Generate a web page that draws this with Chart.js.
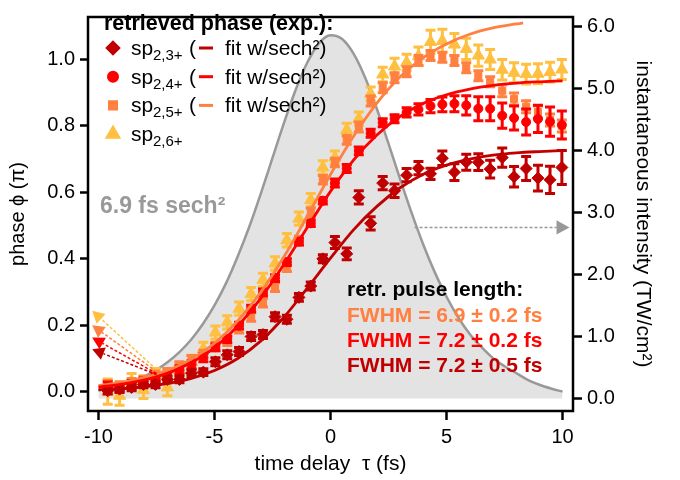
<!DOCTYPE html>
<html>
<head>
<meta charset="utf-8">
<script src="https://cdn.jsdelivr.net/npm/chart.js@4.4.0/dist/chart.umd.min.js"></script>
<style>
  html, body { margin: 0; padding: 0; background: #fff; }
</style>
</head>
<body>
<canvas id="chart" width="680" height="480"></canvas>
<script>
// Measured delays (fs) and retrieved phase (units of pi)
const tau = [-9.60, -9.09, -8.57, -8.06, -7.54, -7.03, -6.51, -5.99, -5.48, -4.96,
  -4.45, -3.94, -3.42, -2.91, -2.39, -1.88, -1.36, -0.85, -0.33, 0.19,
  0.70, 1.22, 1.73, 2.25, 2.76, 3.28, 3.79, 4.31, 4.82, 5.34,
  5.85, 6.37, 6.88, 7.40, 7.91, 8.43, 8.94, 9.46, 9.97];

const phase23 = [0.003, 0.008, 0.013, 0.022, 0.022, 0.037, 0.037, 0.056, 0.059, 0.090,
  0.111, 0.121, 0.166, 0.172, 0.226, 0.218, 0.284, 0.318, 0.400, 0.449,
  0.415, 0.585, 0.507, 0.628, 0.605, 0.652, 0.673, 0.656, 0.703, 0.661,
  0.691, 0.691, 0.670, 0.705, 0.647, 0.672, 0.643, 0.638, 0.675];
const err23 = [0.010, 0.010, 0.010, 0.010, 0.010, 0.010, 0.010, 0.010, 0.010, 0.012,
  0.012, 0.012, 0.012, 0.012, 0.012, 0.012, 0.012, 0.012, 0.012, 0.018,
  0.018, 0.020, 0.020, 0.020, 0.020, 0.020, 0.020, 0.017, 0.022, 0.025,
  0.024, 0.025, 0.027, 0.029, 0.031, 0.036, 0.039, 0.041, 0.051];

const phase24 = [0.017, 0.013, 0.022, 0.029, 0.042, 0.047, 0.066, 0.081, 0.102, 0.134,
  0.158, 0.199, 0.250, 0.299, 0.342, 0.390, 0.452, 0.507, 0.575, 0.628,
  0.672, 0.725, 0.778, 0.810, 0.822, 0.841, 0.850, 0.860, 0.865, 0.867,
  0.862, 0.852, 0.852, 0.831, 0.824, 0.812, 0.821, 0.813, 0.803];
const err24 = [0.012, 0.012, 0.012, 0.012, 0.012, 0.012, 0.012, 0.012, 0.012, 0.010,
  0.010, 0.010, 0.010, 0.010, 0.010, 0.010, 0.010, 0.010, 0.010, 0.012,
  0.012, 0.012, 0.012, 0.012, 0.012, 0.014, 0.017, 0.020, 0.022, 0.024,
  0.029, 0.036, 0.036, 0.038, 0.036, 0.039, 0.041, 0.044, 0.042];

const phase25 = [0.022, 0.018, 0.028, 0.035, 0.050, 0.058, 0.078, 0.097, 0.113, 0.135,
  0.152, 0.190, 0.225, 0.268, 0.315, 0.375, 0.455, 0.540, 0.638, 0.690,
  0.758, 0.797, 0.875, 0.915, 0.945, 0.963, 0.997, 1.012, 1.007, 0.997,
  0.975, 0.951, 0.933, 0.906, 0.881, 0.858, 0.842, 0.818, 0.800];
const err25 = [0.012, 0.012, 0.012, 0.012, 0.012, 0.012, 0.012, 0.012, 0.012, 0.013,
  0.013, 0.013, 0.013, 0.013, 0.013, 0.013, 0.013, 0.013, 0.013, 0.013,
  0.013, 0.015, 0.015, 0.015, 0.015, 0.015, 0.015, 0.015, 0.015, 0.015,
  0.015, 0.015, 0.015, 0.018, 0.018, 0.018, 0.018, 0.018, 0.018];

const phase26 = [0.000, -0.012, 0.030, 0.005, 0.050, 0.013, 0.066, 0.090, 0.129, 0.178,
  0.209, 0.250, 0.294, 0.337, 0.386, 0.456, 0.521, 0.577, 0.675, 0.705,
  0.788, 0.822, 0.897, 0.955, 0.979, 0.991, 1.010, 1.053, 1.056, 1.045,
  1.032, 1.012, 1.000, 0.969, 0.960, 0.956, 0.957, 0.962, 0.970];
const err26 = [0.038, 0.029, 0.025, 0.025, 0.020, 0.025, 0.020, 0.020, 0.020, 0.020,
  0.020, 0.020, 0.020, 0.020, 0.020, 0.020, 0.020, 0.020, 0.020, 0.020,
  0.020, 0.020, 0.020, 0.022, 0.025, 0.025, 0.028, 0.035, 0.035, 0.033,
  0.032, 0.032, 0.030, 0.031, 0.030, 0.030, 0.030, 0.030, 0.030];

// sech^2 fits of the phase
const fitTau = [-10, -9, -8, -7, -6, -5, -4, -3, -2, -1, 0, 1, 2, 3, 4, 5, 6, 7, 8, 9, 10];
const fit23 = [0.006, 0.009, 0.015, 0.025, 0.040, 0.064, 0.100, 0.153, 0.225, 0.312, 0.402,
  0.488, 0.558, 0.614, 0.655, 0.682, 0.700, 0.712, 0.719, 0.723, 0.726];
const fit24 = [0.014, 0.023, 0.036, 0.056, 0.088, 0.133, 0.198, 0.282, 0.384, 0.494, 0.603,
  0.698, 0.773, 0.829, 0.868, 0.894, 0.911, 0.922, 0.929, 0.933, 0.936];
const fitTau25 = [-10, -9, -8, -7, -6, -5, -4, -3, -2, -1, 0, 1, 2, 3, 4, 5, 6, 7, 8, 8.3];
const fit25 = [0.018, 0.028, 0.043, 0.065, 0.098, 0.146, 0.213, 0.300, 0.407, 0.529, 0.654,
  0.770, 0.869, 0.948, 1.006, 1.047, 1.076, 1.095, 1.107, 1.110];

// 6.9 fs sech^2 pulse, instantaneous intensity (TW/cm^2)
const intTau = [-10, -9.5, -9, -8.5, -8, -7.5, -7, -6.5, -6, -5.5, -5, -4.5, -4, -3.5, -3, -2.5, -2, -1.5, -1, -0.5,
  0, 0.5, 1, 1.5, 2, 2.5, 3, 3.5, 4, 4.5, 5, 5.5, 6, 6.5, 7, 7.5, 8, 8.5, 9, 9.5, 10];
const intensity = [0.13, 0.17, 0.22, 0.28, 0.36, 0.46, 0.59, 0.75, 0.95, 1.20, 1.50, 1.86, 2.29, 2.77, 3.31, 3.88, 4.45, 4.98, 5.42, 5.73,
  5.86, 5.80, 5.56, 5.17, 4.67, 4.11, 3.54, 2.99, 2.48, 2.03, 1.64, 1.31, 1.04, 0.83, 0.65, 0.52, 0.41, 0.30, 0.22, 0.16, 0.11];

const tauTicks = [-10, -5, 0, 5, 10];
const phaseTicks = [0, 0.2, 0.4, 0.6, 0.8, 1.0];
const intTicks = [0, 1, 2, 3, 4, 5, 6];

const DARKRED = '#c00000';
const RED = '#ff0000';
const ORANGE = '#ff8040';
const YELLOW = '#ffbf40';
const GREY = '#999999';
const FONT = '"Liberation Sans", Arial, sans-serif';

const pts = (xs, ys) => xs.map((x, i) => ({ x: x, y: ys[i] }));

function fitLine(xs, ys, color) {
  return {
    type: 'line', data: pts(xs, ys), borderColor: color, borderWidth: 2.8,
    pointRadius: 0, fill: false, cubicInterpolationMode: 'monotone', order: 0
  };
}

function pointSet(ys, errs, color, style, radius, order) {
  return {
    type: 'scatter', data: pts(tau, ys), errors: errs, showLine: false,
    pointStyle: style, pointRadius: radius, pointBackgroundColor: color,
    pointBorderColor: color, pointBorderWidth: 1, order: order
  };
}

// Error bars, drawn right before each point set so layering stays right
const errorBars = {
  id: 'errorBars',
  beforeDatasetDraw(chart, args) {
    const ds = chart.data.datasets[args.index];
    if (!ds.errors) return;
    const ctx = chart.ctx;
    const yScale = chart.scales.y;
    const area = chart.chartArea;
    ctx.save();
    ctx.beginPath();
    ctx.rect(area.left, area.top, area.right - area.left, area.bottom - area.top);
    ctx.clip();
    ctx.strokeStyle = ds.pointBackgroundColor;
    ctx.lineWidth = 3;
    args.meta.data.forEach((pt, i) => {
      const v = ds.data[i].y, e = ds.errors[i];
      const y0 = yScale.getPixelForValue(v - e);
      const y1 = yScale.getPixelForValue(v + e);
      ctx.beginPath();
      ctx.moveTo(pt.x, y0); ctx.lineTo(pt.x, y1);
      ctx.moveTo(pt.x - 5, y0); ctx.lineTo(pt.x + 5, y0);
      ctx.moveTo(pt.x - 5, y1); ctx.lineTo(pt.x + 5, y1);
      ctx.stroke();
    });
    ctx.restore();
  }
};

function arrow(ctx, x0, y0, x1, y1, color, size, width) {
  const ang = Math.atan2(y1 - y0, x1 - x0);
  const bx = x1 - size * Math.cos(ang), by = y1 - size * Math.sin(ang);
  ctx.save();
  ctx.strokeStyle = color;
  ctx.fillStyle = color;
  ctx.lineWidth = width;
  ctx.setLineDash([3, 2]);
  ctx.beginPath();
  ctx.moveTo(x0, y0); ctx.lineTo(bx, by);
  ctx.stroke();
  ctx.setLineDash([]);
  ctx.beginPath();
  ctx.moveTo(x1, y1);
  ctx.lineTo(bx + size * 0.55 * Math.sin(ang), by - size * 0.55 * Math.cos(ang));
  ctx.lineTo(bx - size * 0.55 * Math.sin(ang), by + size * 0.55 * Math.cos(ang));
  ctx.closePath();
  ctx.fill();
  ctx.restore();
}

// Frame, legend, arrows and text labels
const annotations = {
  id: 'annotations',
  afterDraw(chart) {
    const ctx = chart.ctx;
    const a = chart.chartArea;
    const x = chart.scales.x, y = chart.scales.y, y1 = chart.scales.y1;

    // arrows pointing to the phase axis
    const tips = [[0.244, YELLOW, 0.067], [0.200, ORANGE, 0.061], [0.163, RED, 0.055], [0.128, DARKRED, 0.052]];
    tips.forEach(t => {
      arrow(ctx, x.getPixelForValue(-7.5), y.getPixelForValue(t[2]),
        x.getPixelForValue(-10.27), y.getPixelForValue(t[0]), t[1], 12, 1.5);
    });
    // arrow pointing to the intensity axis
    arrow(ctx, x.getPixelForValue(3.62), y1.getPixelForValue(2.76),
      x.getPixelForValue(10.3), y1.getPixelForValue(2.76), GREY, 13, 1.5);

    // frame
    ctx.save();
    ctx.strokeStyle = '#000';
    ctx.lineWidth = 2.5;
    ctx.strokeRect(a.left, a.top, a.right - a.left, a.bottom - a.top);

    // legend
    ctx.fillStyle = '#000';
    ctx.textBaseline = 'alphabetic';
    ctx.font = 'bold 21.5px ' + FONT;
    ctx.fillText('retrieved phase (exp.):', 104, 30);
    const rows = [
      ['rectRot', DARKRED, 6, '2,3+', DARKRED],
      ['circle', RED, 4.5, '2,4+', RED],
      ['rect', ORANGE, 5, '2,5+', ORANGE],
      ['triangle', YELLOW, 6.5, '2,6+', null]
    ];
    rows.forEach((r, i) => {
      const base = 55 + i * 28.7;
      ctx.fillStyle = r[1];
      ctx.strokeStyle = r[1];
      Chart.helpers.drawPoint(ctx, { pointStyle: r[0], radius: r[2], borderWidth: 1, rotation: 0 }, 113, base - 7);
      ctx.fillStyle = '#000';
      ctx.font = '21px ' + FONT;
      ctx.fillText('sp', 131, base);
      ctx.font = '15px ' + FONT;
      ctx.fillText(r[3], 153, base + 5);
      if (r[4]) {
        ctx.font = '21px ' + FONT;
        ctx.fillText('(', 189, base);
        ctx.strokeStyle = r[4];
        ctx.lineWidth = 3;
        ctx.beginPath();
        ctx.moveTo(199, base - 7); ctx.lineTo(213, base - 7);
        ctx.stroke();
        ctx.fillText('fit w/sech\u00b2)', 225, base);
      }
    });

    // pulse label
    ctx.fillStyle = GREY;
    ctx.font = 'bold 23px ' + FONT;
    ctx.fillText('6.9 fs sech\u00b2', 100, 213);

    // retrieved pulse lengths
    ctx.font = 'bold 21px ' + FONT;
    ctx.fillStyle = '#000';
    ctx.fillText('retr. pulse length:', 347, 296);
    ctx.fillStyle = ORANGE;
    ctx.fillText('FWHM = 6.9 \u00b1 0.2 fs', 347, 322);
    ctx.fillStyle = RED;
    ctx.fillText('FWHM = 7.2 \u00b1 0.2 fs', 347, 347);
    ctx.fillStyle = DARKRED;
    ctx.fillText('FWHM = 7.2 \u00b1 0.5 fs', 347, 372);
    ctx.restore();
  }
};

const tickFont = { family: FONT, size: 20 };

const ctx = document.getElementById('chart').getContext('2d');
new Chart(ctx, {
  type: 'scatter',
  data: {
    datasets: [
      fitLine(fitTau, fit23, DARKRED),
      fitLine(fitTau, fit24, RED),
      fitLine(fitTau25, fit25, ORANGE),
      pointSet(phase23, err23, DARKRED, 'rectRot', 6, 1),
      pointSet(phase24, err24, RED, 'circle', 4.5, 2),
      pointSet(phase25, err25, ORANGE, 'rect', 5, 3),
      pointSet(phase26, err26, YELLOW, 'triangle', 7, 4),
      {
        type: 'line', data: pts(intTau, intensity), yAxisID: 'y1',
        borderColor: GREY, borderWidth: 2.5, backgroundColor: '#e3e3e3',
        fill: 'origin', pointRadius: 0, cubicInterpolationMode: 'monotone', order: 10
      }
    ]
  },
  options: {
    responsive: false,
    animation: false,
    layout: { padding: { top: 3, left: 0, right: 0, bottom: 0 } },
    plugins: { legend: { display: false }, tooltip: { enabled: false } },
    scales: {
      x: {
        type: 'linear', min: -10.45, max: 10.45,
        afterBuildTicks: s => { s.ticks = tauTicks.map(v => ({ value: v })); },
        afterFit: s => { s.height = 69; },
        ticks: { font: tickFont, color: '#000', padding: 5, maxRotation: 0, callback: v => String(v) },
        grid: { drawOnChartArea: false, tickLength: 9, tickWidth: 2.5, tickColor: '#000' },
        border: { display: false },
        title: { display: true, text: 'time delay  \u03c4 (fs)', font: { family: FONT, size: 21 }, color: '#000', padding: { top: 0, bottom: 3 } }
      },
      y: {
        type: 'linear', position: 'left', min: -0.058, max: 1.128,
        afterBuildTicks: s => { s.ticks = phaseTicks.map(v => ({ value: v })); },
        afterFit: s => { s.width = 88; },
        ticks: { font: tickFont, color: '#000', padding: 5, callback: v => v.toFixed(1) },
        grid: { drawOnChartArea: false, tickLength: 8, tickWidth: 2.5, tickColor: '#000' },
        border: { display: false },
        title: { display: true, text: 'phase \u03d5 (\u03c0)', font: { family: FONT, size: 20 }, color: '#000', padding: { top: 6, bottom: 0 } }
      },
      y1: {
        type: 'linear', position: 'right', min: -0.203, max: 6.155,
        afterBuildTicks: s => { s.ticks = intTicks.map(v => ({ value: v })); },
        afterFit: s => { s.width = 107; },
        ticks: { font: tickFont, color: '#000', padding: 5, callback: v => v.toFixed(1) },
        grid: { drawOnChartArea: false, tickLength: 9, tickWidth: 2.5, tickColor: '#000' },
        border: { display: false },
        title: { display: true, text: 'instantaneous intensity (TW/cm\u00b2)', font: { family: FONT, size: 21 }, color: '#000', padding: { top: 25, bottom: 0 } }
      }
    }
  },
  plugins: [errorBars, annotations]
});
</script>
</body>
</html>
